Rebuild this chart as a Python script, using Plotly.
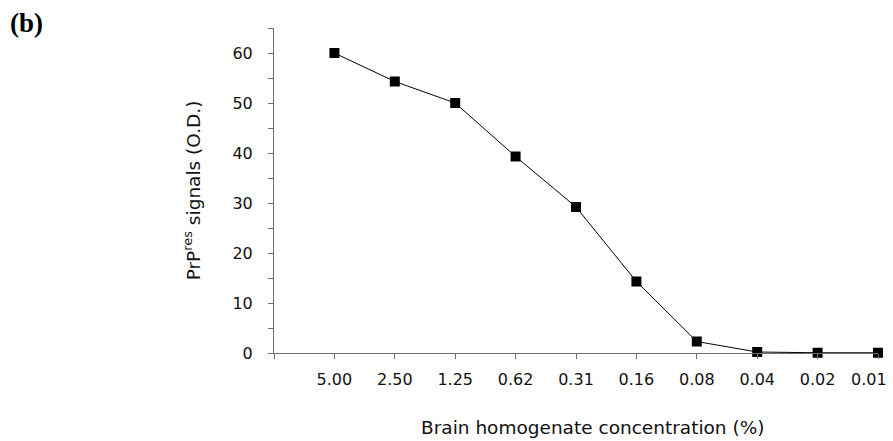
import plotly.graph_objects as go

# Dilution series of brain homogenate and the measured PrPres signal
concentrations = ["5.00", "2.50", "1.25", "0.62", "0.31", "0.16", "0.08", "0.04", "0.02", "0.01"]
signals_od = [60.0, 54.3, 50.0, 39.3, 29.2, 14.3, 2.3, 0.2, 0.05, 0.05]

y_tick_values = list(range(0, 66, 5))
y_tick_labels = [str(v) if v % 10 == 0 else "" for v in y_tick_values]

positions = list(range(1, len(concentrations) + 1))

axis_color = "#6e6e6e"
tick_font = dict(family="DejaVu Sans", size=16, color="#111111")

fig = go.Figure(
    go.Scatter(
        x=positions,
        y=signals_od,
        mode="lines+markers",
        line=dict(color="black", width=1),
        marker=dict(symbol="square", size=10, color="black"),
        cliponaxis=False,
        showlegend=False,
    )
)

# The last category sits on the right edge of the axis, so its label is
# pulled slightly inward as a separate annotation to stay on the page.
x_tick_text = [""] + concentrations[:-1] + [""]

fig.update_layout(
    width=893,
    height=441,
    margin=dict(l=274, r=15, t=28, b=88, autoexpand=False),
    paper_bgcolor="white",
    plot_bgcolor="white",
    xaxis=dict(
        range=[0, len(concentrations)],
        tickmode="array",
        tickvals=[0] + positions,
        ticktext=x_tick_text,
        ticks="outside",
        ticklen=5,
        tickcolor=axis_color,
        tickfont=tick_font,
        ticklabelstandoff=7,
        automargin=False,
        showline=True,
        linecolor=axis_color,
        linewidth=1,
        showgrid=False,
        zeroline=False,
        fixedrange=True,
    ),
    yaxis=dict(
        range=[0, 65],
        tickmode="array",
        tickvals=y_tick_values,
        ticktext=y_tick_labels,
        ticks="outside",
        ticklen=5,
        tickcolor=axis_color,
        tickfont=tick_font,
        ticklabelstandoff=12,
        automargin=False,
        showline=True,
        linecolor=axis_color,
        linewidth=1,
        showgrid=False,
        zeroline=False,
        fixedrange=True,
    ),
    annotations=[
        dict(
            text=concentrations[-1],
            xref="x", yref="paper",
            x=positions[-1], y=-0.081,
            xanchor="right", yanchor="middle",
            xshift=11,
            showarrow=False,
            font=tick_font,
        ),
        dict(
            text="Brain homogenate concentration (%)",
            xref="paper", yref="paper",
            x=0.528, y=-0.228,
            xanchor="center", yanchor="middle",
            showarrow=False,
            font=dict(family="DejaVu Sans", size=18.5, color="#111111"),
        ),
        dict(
            text="PrP<sup>res</sup> signals (O.D.)",
            xref="paper", yref="paper",
            x=-0.136, y=0.5,
            xanchor="center", yanchor="middle",
            textangle=-90,
            showarrow=False,
            font=dict(family="DejaVu Sans", size=18.5, color="#111111"),
        ),
        dict(
            text="<b>(b)</b>",
            xref="paper", yref="paper",
            x=-274 / 604 + 8 / 604, y=1 + 5 / 325,
            xanchor="left", yanchor="middle",
            showarrow=False,
            font=dict(family="Liberation Serif", size=27, color="black"),
        ),
    ],
)

fig.write_html("out.html")
